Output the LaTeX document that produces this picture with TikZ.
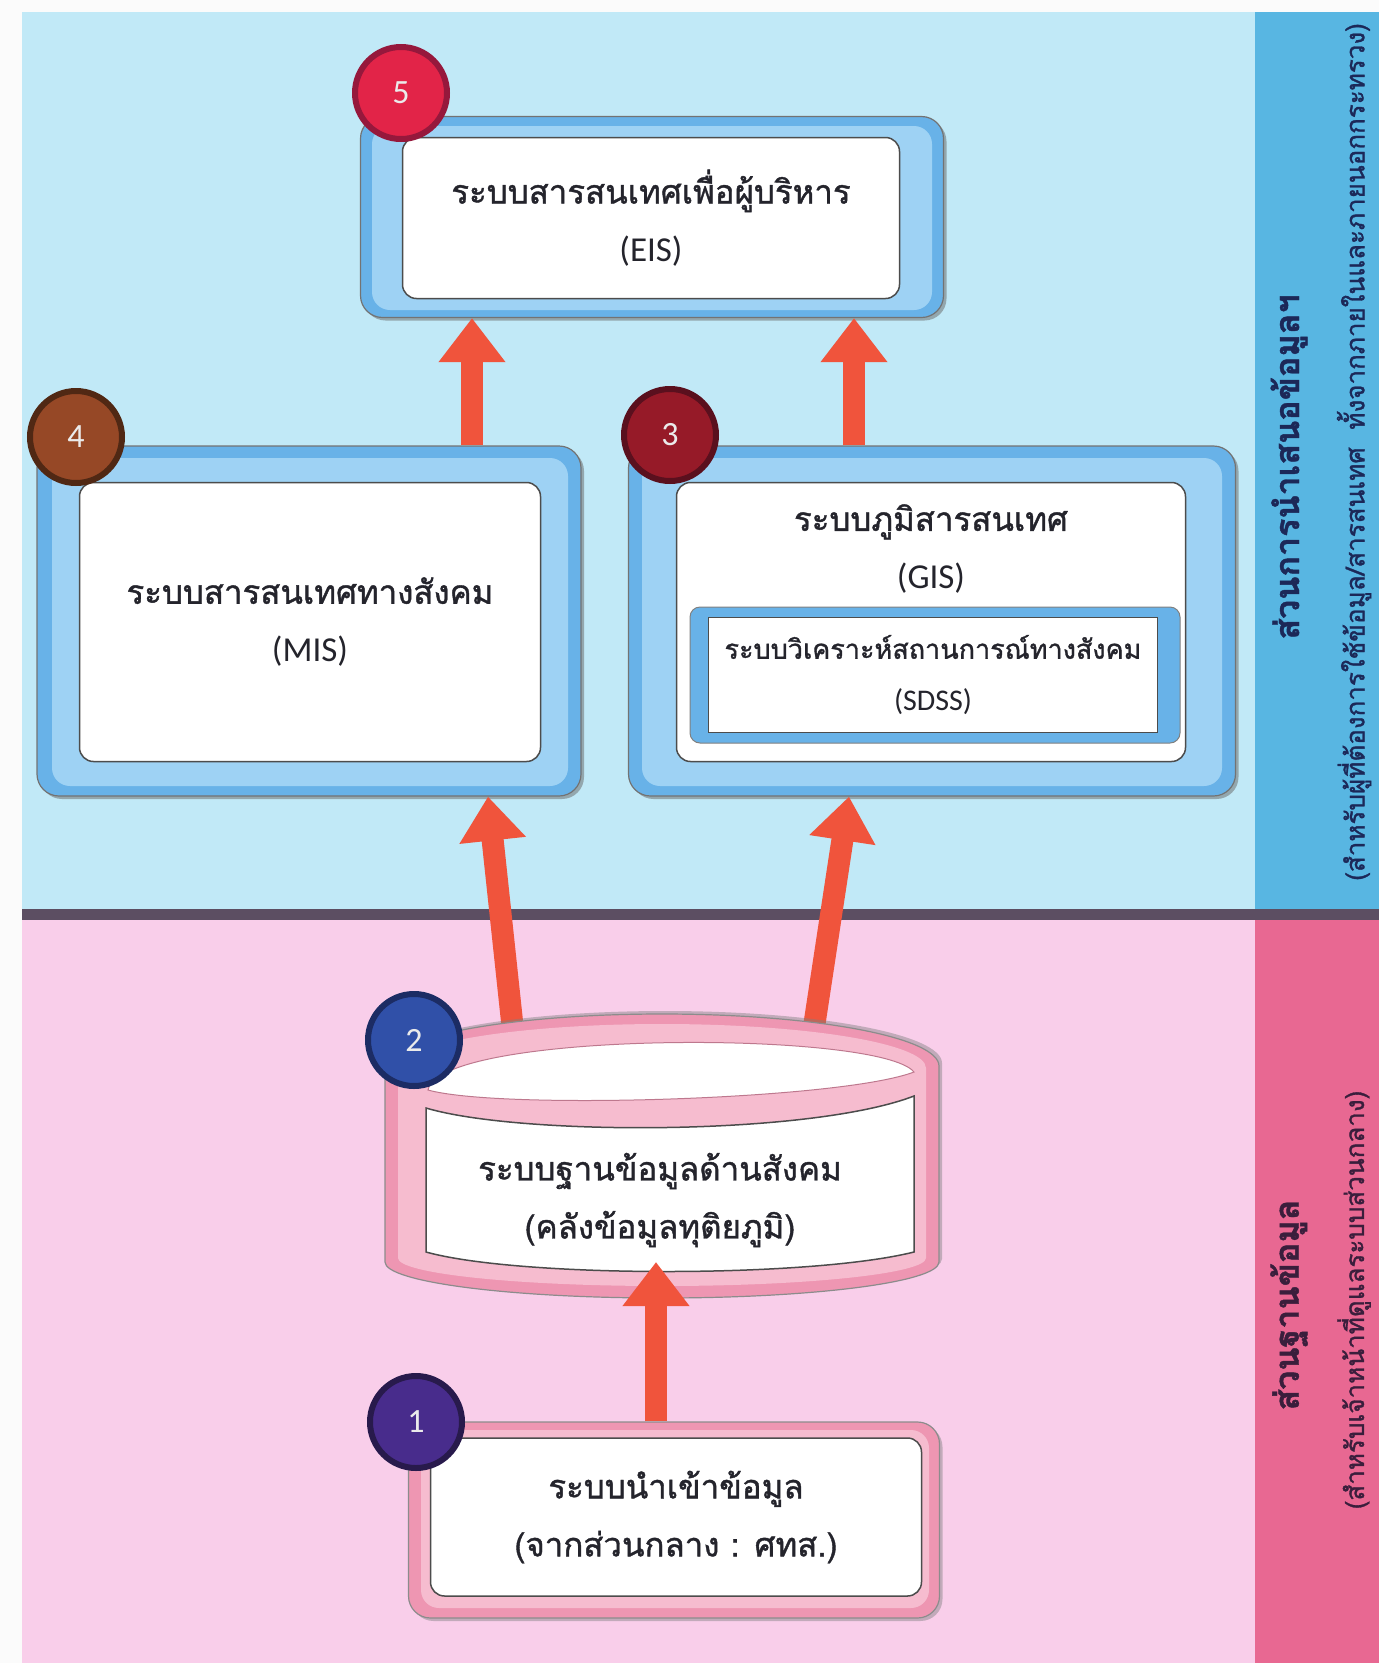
\documentclass[tikz,border=0pt]{standalone}
\usepackage{fontspec}
\setmainfont[Script=Thai,FakeBold=1.2]{Loma}
\newfontfamily\lat{Carlito}
\usetikzlibrary{arrows.meta,calc,shadows}
\definecolor{skybg}{RGB}{193,233,247}
\definecolor{stripblue}{RGB}{88,182,226}
\definecolor{pinkbg}{RGB}{249,206,234}
\definecolor{strippink}{RGB}{232,104,146}
\definecolor{divgray}{RGB}{92,78,98}
\definecolor{frameblue}{RGB}{104,178,232}
\definecolor{bandblue}{RGB}{158,210,244}
\definecolor{framepink}{RGB}{238,150,178}
\definecolor{bandpink}{RGB}{246,188,207}
\definecolor{arrowred}{RGB}{240,84,60}
\definecolor{txt}{RGB}{36,36,44}
\definecolor{navy}{RGB}{28,40,88}
\definecolor{plum}{RGB}{58,30,60}
\definecolor{cA}{RGB}{226,36,72}\definecolor{rA}{RGB}{150,24,60}
\definecolor{cB}{RGB}{150,72,38}\definecolor{rB}{RGB}{80,40,20}
\definecolor{cC}{RGB}{150,26,40}\definecolor{rC}{RGB}{90,16,30}
\definecolor{cD}{RGB}{48,80,168}\definecolor{rD}{RGB}{28,44,100}
\definecolor{cE}{RGB}{72,44,140}\definecolor{rE}{RGB}{40,26,76}
\newcommand{\ltx}[1]{{\lat\fontsize{35}{58}\selectfont #1}}
\tikzset{
  outerblue/.style={rectangle, rounded corners=22pt, fill=frameblue, draw=black!55, line width=1.2pt,
     drop shadow={shadow xshift=3pt, shadow yshift=-3pt, fill=black!60, opacity=0.5}},
  bandb/.style={rectangle, rounded corners=18pt, fill=bandblue},
  outerpink/.style={rectangle, rounded corners=22pt, fill=framepink, draw=black!45, line width=1.2pt,
     drop shadow={shadow xshift=3pt, shadow yshift=-3pt, fill=black!50, opacity=0.45}},
  bandp/.style={rectangle, rounded corners=18pt, fill=bandpink},
  whitebox/.style={rectangle, rounded corners=14pt, fill=white, draw=black!70, line width=1.5pt,
     align=center, text=txt, font=\fontsize{33}{58}\selectfont},
  boxtext/.style={align=center, text=txt, font=\fontsize{33}{58}\selectfont},
  bigarrow/.style={draw=arrowred, line width=22pt, -{Triangle[width=64pt,length=44pt]}},
  numdot/.style={circle, minimum size=92pt, line width=6pt, text=white!92!black, font=\lat\fontsize{34}{40}\selectfont},
  striptxt/.style={rotate=90, font=\bfseries\fontsize{34}{40}\selectfont},
  stripsub/.style={rotate=90, font=\fontsize{26}{30}\selectfont},
}
\begin{document}
\begin{tikzpicture}[x=1pt,y=-1pt]
\useasboundingbox (0,0) rectangle (1379,1663);
% backgrounds
\fill[white!97!gray] (0,0) rectangle (1379,1663);
\fill[skybg] (22,12) rectangle (1255,914);
\fill[stripblue] (1255,12) rectangle (1379,914);
\fill[pinkbg] (22,914) rectangle (1255,1663);
\fill[strippink] (1255,914) rectangle (1379,1663);
\draw[divgray, line width=11pt] (22,914) -- (1379,914);

% strip texts
\node[striptxt, text=navy] (topmain) at (1289,467) {ส่วนการนำเสนอข้อมูลฯ};
\node[stripsub, text=navy] (topsub) at (1354,452) {(สำหรับผู้ที่ต้องการใช้ข้อมูล/สารสนเทศ\ \ ทั้งจากภายในและภายนอกกระทรวง)};
\node[striptxt, text=plum] (botmain) at (1289,1305) {ส่วนฐานข้อมูล};
\node[stripsub, text=plum] (botsub) at (1354,1300) {(สำหรับเจ้าหน้าที่ดูแลระบบส่วนกลาง)};

% EIS
\node[outerblue, minimum width=583pt, minimum height=201pt] (eisF) at (652,217) {};
\node[bandb, minimum width=560pt, minimum height=184pt] (eisB) at (652,218) {};
\node[whitebox, minimum width=497pt, minimum height=161pt] (eis) at (651,218) {ระบบสารสนเทศเพื่อผู้บริหาร\\\ltx{(EIS)}};

% MIS
\node[outerblue, minimum width=544pt, minimum height=350pt] (misF) at (309,621) {};
\node[bandb, minimum width=516pt, minimum height=328pt] (misB) at (310,622) {};
\node[whitebox, minimum width=461pt, minimum height=279pt] (mis) at (310,622) {ระบบสารสนเทศทางสังคม\\\ltx{(MIS)}};

% GIS
\node[outerblue, minimum width=607pt, minimum height=350pt] (gisF) at (932,621) {};
\node[bandb, minimum width=580pt, minimum height=328pt] (gisB) at (932,622) {};
\node[rectangle, rounded corners=14pt, fill=white, draw=black!70, line width=1.5pt, minimum width=509pt, minimum height=279pt] (gis) at (931,622) {};
\node[boxtext] (gist) at (931,549) {ระบบภูมิสารสนเทศ\\\ltx{(GIS)}};
\node[rectangle, rounded corners=10pt, fill=frameblue, draw=black!50, line width=1pt, minimum width=490pt, minimum height=136pt] (sdssF) at (935,675) {};
\node[rectangle, fill=white, draw=black!70, line width=1.2pt, minimum width=449pt, minimum height=115pt, align=center, text=txt, font=\fontsize{27}{52}\selectfont] (sdss) at (933,675) {ระบบวิเคราะห์สถานการณ์ทางสังคม\\{\lat\fontsize{30}{52}\selectfont (SDSS)}};

% top arrows
\coordinate (xL) at (472,0);
\coordinate (xR) at (854,0);
\draw[bigarrow] (misF.north -| xL) -- (eisF.south -| xL);
\draw[bigarrow] (gisF.north -| xR) -- (eisF.south -| xR);

% middle arrows (tails hidden behind database top)
\coordinate (dbTL) at (514,1040);
\coordinate (dbTR) at (812,1040);
\coordinate (xM1) at (488,0);
\coordinate (xM2) at (849,0);
\draw[bigarrow] (dbTL) -- (misF.south -| xM1);
\draw[bigarrow] (dbTR) -- (gisF.south -| xM2);

% box 1
\node[outerpink, minimum width=531pt, minimum height=196pt] (oneF) at (674,1520) {};
\node[bandp, minimum width=508pt, minimum height=178pt] (oneB) at (675,1519) {};
\node[whitebox, minimum width=491pt, minimum height=158pt] (one) at (676,1517) {ระบบนำเข้าข้อมูล\\(จากส่วนกลาง : ศทส.)};

% database cylinder
\fill[black!50, opacity=0.45, shift={(3pt,3pt)}] (385,1066) arc[start angle=180,end angle=360,x radius=277,y radius=52] -- (939,1262) arc[start angle=0,end angle=180,x radius=277,y radius=36] -- cycle;
\filldraw[fill=framepink, draw=black!45, line width=1.2pt] (385,1066) arc[start angle=180,end angle=360,x radius=277,y radius=52] -- (939,1262) arc[start angle=0,end angle=180,x radius=277,y radius=36] -- cycle;
\fill[bandpink] (398,1068) arc[start angle=180,end angle=360,x radius=264,y radius=44] -- (926,1258) arc[start angle=0,end angle=180,x radius=264,y radius=28] -- cycle;
\filldraw[fill=white, draw=framepink!80!black, line width=1pt] (428,1090) .. controls (440,1030) and (880,1030) .. (914,1072) .. controls (840,1100) and (500,1110) .. cycle;
\filldraw[fill=white, draw=black!70, line width=1.5pt] (426,1108) .. controls (520,1136) and (810,1136) .. (914,1096) -- (914,1252) .. controls (810,1278) and (520,1278) .. (426,1252) -- cycle;
\node[boxtext] (db) at (660,1200) {ระบบฐานข้อมูลด้านสังคม\\(คลังข้อมูลทุติยภูมิ)};

% bottom arrow
\coordinate (xB) at (656,0);
\coordinate (dbBot) at (656,1262);
\draw[bigarrow] (oneF.north -| xB) -- (dbBot);

% numbered dots
\node[numdot, fill=cA, draw=rA] (n5) at (401,93) {5};
\node[numdot, fill=cB, draw=rB] (n4) at (76,437) {4};
\node[numdot, fill=cC, draw=rC] (n3) at (670,435) {3};
\node[numdot, fill=cD, draw=rD] (n2) at (414,1040) {2};
\node[numdot, fill=cE, draw=rE] (n1) at (416,1422) {1};
\end{tikzpicture}
\end{document}
